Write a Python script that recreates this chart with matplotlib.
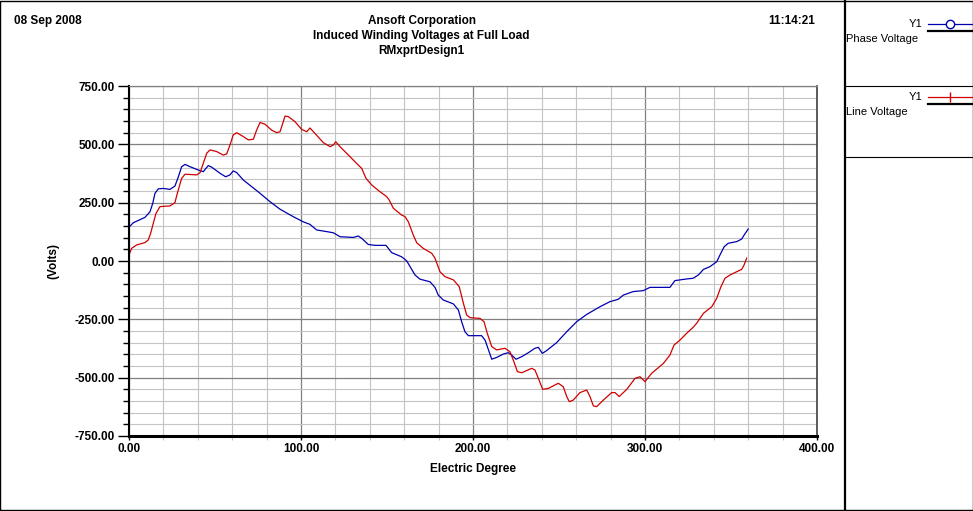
import numpy as np
import matplotlib
matplotlib.use("Agg")
import matplotlib.pyplot as plt
from matplotlib.lines import Line2D
from matplotlib.ticker import MultipleLocator, FormatStrFormatter

# Phase voltage (blue)
phase_deg = [0, 2.5, 9.3, 12.2, 13.8, 15.1, 17, 20, 23.8, 26.7, 28.7, 30.6, 32.6, 35.5,
             40.3, 43.2, 46.1, 48.1, 52.9, 56.2, 58.7, 60.6, 62.6, 66.5, 76.2, 82, 87.8,
             95.5, 101.3, 105.2, 109.1, 114.9, 118.8, 122.7, 130.4, 133.3, 135.3, 139.1,
             143, 149.4, 150.8, 152.7, 158.5, 161.4, 163.4, 166.3, 169.2, 175, 177.9,
             179.8, 182.7, 188.6, 191.5, 193.4, 195.3, 197.3, 205, 207, 209, 210.9,
             213.8, 217.6, 220.5, 222.5, 225, 228.3, 232.2, 236, 238, 240.3, 242.8,
             248.6, 254.5, 260.3, 266.1, 273.8, 279.7, 284.5, 287.4, 293.2, 299, 302.9,
             314.5, 317.4, 324.2, 328, 331, 334, 337.8, 341.7, 343.6, 346, 348.4, 353.3,
             356.2, 357.6, 360]
phase_volts = [145, 164, 187, 211, 247, 290, 309, 311, 307, 321, 361, 404, 414, 404,
               390, 383, 409, 402, 376, 361, 369, 386, 379, 347, 290, 254, 222,
               190, 168, 157, 133, 126, 121, 104, 101, 107, 97, 71,
               67, 67, 54, 36, 18, 1, -24, -60, -78, -89, -113,
               -146, -167, -184, -210, -260, -303, -320, -320, -339, -381, -421,
               -413, -399, -393, -403, -421, -410, -393, -374, -370, -396, -384,
               -350, -303, -260, -229, -196, -174, -164, -146, -131, -127, -113,
               -113, -84, -77, -74, -60, -36, -24, -3, 26, 61, 76, 83,
               94, 111, 137]

# Line voltage (red)
line_deg = [0, 1.5, 4.5, 9.3, 11.2, 12.6, 14.1, 15.7, 18, 23.8, 26.7, 28.1, 30.6, 32.6,
            39.4, 41.3, 43.2, 45.2, 47.1, 51, 54.8, 56.8, 58.7, 60.6, 62.6, 66.5, 69.4,
            72.3, 74.2, 76.2, 79.1, 82.9, 85.9, 87.8, 89.4, 90.7, 92.6, 96.5, 100.4,
            103.3, 105.2, 108.1, 113, 116.9, 118.8, 120.2, 122.7, 128.5, 133.3, 135.3,
            137.8, 141.1, 145.9, 149.8, 151.3, 153.7, 158.5, 160.5, 162.4, 165.3, 167.3,
            171.1, 176, 177.9, 180.8, 183.7, 188.6, 192, 194.4, 196.3, 198.3, 204.1,
            206.4, 208.3, 210.9, 213.8, 218.6, 221.5, 223.4, 225.8, 228.3, 234.1, 236,
            238, 240.5, 243.8, 249.6, 252.5, 254.5, 256, 258.3, 262.2, 266.1, 268, 270,
            271.9, 275.8, 280.6, 282.6, 285, 289.4, 294.2, 297.1, 300, 303.9, 310.7,
            314.5, 316.9, 320.3, 324.2, 328, 330, 334, 338.8, 341.7, 344, 346.5, 349.4,
            353.3, 356.2, 357.6, 359.1]
line_volts = [26, 54, 69, 79, 90, 119, 161, 204, 233, 236, 250, 290, 354, 372,
              369, 379, 419, 462, 476, 469, 454, 459, 497, 540, 550, 533, 519,
              522, 561, 594, 586, 561, 550, 554, 590, 621, 619, 597, 564,
              554, 570, 547, 507, 490, 497, 511, 490, 447, 411, 397,
              354, 326, 297, 276, 261, 226, 197, 190, 168, 111, 78,
              54, 33, 12, -46, -67, -81, -110, -181, -231, -243, -246,
              -260, -310, -367, -381, -374, -389, -424, -474, -479, -460, -467,
              -503, -550, -546, -524, -539, -581, -603, -596, -564, -553, -581, -621,
              -624, -596, -564, -564, -581, -550, -503, -496, -517, -481, -439,
              -403, -360, -339, -310, -284, -267, -224, -196, -160, -113, -74, -60,
              -46, -36, -17, 12]

legend_names = ["Phase Voltage", "Line Voltage"]
series_colors = ["#0000b0", "#d00000"]

bold_font = ["Liberation Sans Narrow", "Liberation Sans", "DejaVu Sans"]
plain_font = ["Liberation Sans", "DejaVu Sans"]

W, H = 973, 511
fig = plt.figure(figsize=(W / 100, H / 100), dpi=100)
fig.patch.set_facecolor("white")


def fx(px):
    return px / W


def fy(py):
    return 1 - py / H


ax = fig.add_axes([fx(129), fy(436), fx(817) - fx(129), fy(86) - fy(436)])
ax.plot(phase_deg, phase_volts, color=series_colors[0], lw=0.9)
ax.plot(line_deg, line_volts, color=series_colors[1], lw=0.9)

ax.set_xlim(0, 400)
ax.set_ylim(-750, 750)
ax.xaxis.set_major_locator(MultipleLocator(100))
ax.xaxis.set_minor_locator(MultipleLocator(20))
ax.yaxis.set_major_locator(MultipleLocator(250))
ax.yaxis.set_minor_locator(MultipleLocator(50))
ax.xaxis.set_major_formatter(FormatStrFormatter("%.2f"))
ax.yaxis.set_major_formatter(FormatStrFormatter("%.2f"))

ax.grid(which="minor", color="#c4c4c4", lw=0.8)
ax.grid(which="major", color="#808080", lw=0.9)
ax.set_axisbelow(True)

ax.tick_params(axis="y", which="major", length=8, width=1, pad=2, labelsize=8.5)
ax.tick_params(axis="y", which="minor", length=4, width=1)
ax.tick_params(axis="x", which="major", length=3, width=1, pad=2, labelsize=8.5)
ax.tick_params(axis="x", which="minor", length=3, width=0.8, color="#c4c4c4")
for lab in ax.get_xticklabels() + ax.get_yticklabels():
    lab.set_fontweight("bold")
    lab.set_family(bold_font)

ax.spines["left"].set_linewidth(1.5)
ax.spines["bottom"].set_linewidth(2.2)
ax.spines["top"].set_color("#808080")
ax.spines["right"].set_color("#404040")
ax.spines["top"].set_linewidth(0.9)
ax.spines["right"].set_linewidth(1.2)

ax.set_xlabel("Electric Degree", fontsize=8.5, fontweight="bold", family=bold_font, labelpad=6)
ax.set_ylabel("(Volts)", fontsize=8.5, fontweight="bold", family=bold_font, labelpad=11)

# header texts
fig.text(fx(14), fy(21), "08 Sep 2008", ha="left", va="center", fontsize=8.5,
         fontweight="bold", family=bold_font)
fig.text(fx(421.5), fy(21), "Ansoft Corporation", ha="center", va="center", fontsize=8.5,
         fontweight="bold", family=bold_font)
fig.text(fx(421.5), fy(36), "Induced Winding Voltages at Full Load", ha="center",
         va="center", fontsize=8.5, fontweight="bold", family=bold_font)
fig.text(fx(421.5), fy(51), "RMxprtDesign1", ha="center", va="center", fontsize=8.5,
         fontweight="bold", family=bold_font)
fig.text(fx(815), fy(21), "11:14:21", ha="right", va="center", fontsize=8.5,
         fontweight="bold", family=bold_font)

# outer frame and legend panel
tr = fig.transFigure
fig.add_artist(Line2D([0.0005, 0.9995, 0.9995, 0.0005, 0.0005],
                      [0.001, 0.001, 0.999, 0.999, 0.001], color="black", lw=1, transform=tr))
fig.add_artist(Line2D([fx(845), fx(845)], [0, 1], color="black", lw=1.6, transform=tr))
for yy in (86, 157):
    fig.add_artist(Line2D([fx(845), 1], [fy(yy), fy(yy)], color="black", lw=0.8, transform=tr))

markers = ["o", "|"]
for i, (name, col) in enumerate(zip(legend_names, series_colors)):
    y0 = 24 + 73 * i
    fig.text(fx(922), fy(y0), "Y1", ha="right", va="center", fontsize=8, family=plain_font)
    fig.add_artist(Line2D([fx(928), 1], [fy(y0), fy(y0)], color=col, lw=0.9, transform=tr))
    fig.add_artist(Line2D([fx(950)], [fy(y0)], marker=markers[i], ms=7 if i else 6,
                          mfc="white", mec=col, mew=1, color=col, transform=tr))
    fig.add_artist(Line2D([fx(928), 1], [fy(y0 + 7), fy(y0 + 7)], color="black", lw=1.6,
                          transform=tr))
    fig.text(fx(846), fy(y0 + 15), name, ha="left", va="center", fontsize=8, family=plain_font)

fig.savefig("out.png", dpi=100)
